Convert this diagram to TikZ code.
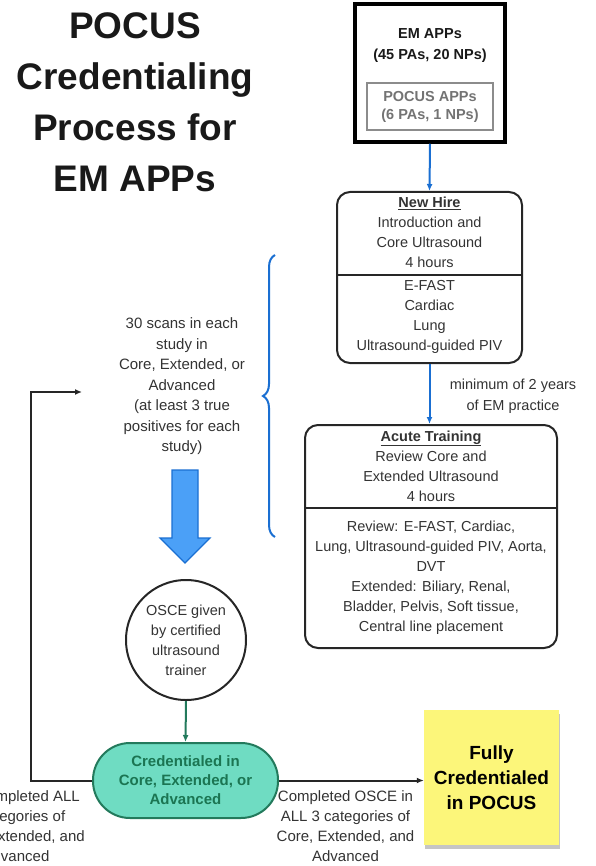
\documentclass[tikz,border=0pt]{standalone}
\usepackage{fontspec}
\setmainfont{Liberation Sans}
\usetikzlibrary{arrows.meta, positioning, calc, shadows, decorations.pathreplacing}
\definecolor{flowblue}{HTML}{1A6FD2}
\definecolor{arrowfill}{HTML}{4BA0F7}
\definecolor{credfill}{HTML}{6FDCC2}
\definecolor{credline}{HTML}{237A5C}
\definecolor{credtext}{HTML}{1B7552}
\definecolor{notefill}{HTML}{FCF67A}
\definecolor{bodytext}{HTML}{333333}

\begin{document}
\begin{tikzpicture}[x=1pt, y=-1pt, >={Latex[length=7pt, width=6pt]},
    body/.style={font=\fontsize{14.5}{20}\selectfont, text=bodytext, align=center},
    note/.style={font=\fontsize{15}{20.5}\selectfont, text=bodytext, align=center},
    stage/.style={draw=black!85, line width=2pt, rounded corners=13pt},
    flow/.style={->, flowblue, line width=2pt},
    link/.style={->, black!85, line width=2pt}]

    \useasboundingbox (0,0) rectangle (595,866);
    \clip (0,0) rectangle (595,866);

    \node[font=\bfseries\fontsize{37}{51}\selectfont, align=center, text=black!90] (title) at (135,102) {POCUS\\Credentialing\\Process for\\EM APPs};

    % staff pool
    \node[draw=black, line width=3.5pt, minimum width=150, minimum height=138] (em) at (430,73) {};
    \node[body, font=\bfseries\fontsize{14.5}{21}\selectfont, text=black!90] (emtext) at (430,45.5) {EM APPs\\(45 PAs, 20 NPs)};
    \node[draw=black!45, line width=1.5pt, minimum width=126, minimum height=47, font=\bfseries\fontsize{14.5}{18}\selectfont, text=black!55, align=center] (pocus) at (430,106.5) {POCUS APPs\\(6 PAs, 1 NPs)};

    % new hire
    \node[stage, minimum width=185, minimum height=171] (hire) at (429.5,277.5) {};
    \node[body] (hiretop) at (429.5,232.5) {\underline{\textbf{New Hire}}\\Introduction and\\Core Ultrasound\\4 hours};
    \node[body] (hirebot) at (429.5,317) {E-FAST\\Cardiac\\Lung\\Ultrasound-guided PIV};
    \draw[black!85, line width=2pt] (hire.west |- 0,275) -- (hire.east |- 0,275);

    % acute training
    \node[stage, minimum width=252, minimum height=223] (acute) at (431,536.5) {};
    \node[body] (acutetop) at (431,466) {\underline{\textbf{Acute Training}}\\Review Core and\\Extended Ultrasound\\4 hours};
    \node[body] (acutebot) at (431,578) {Review: E-FAST, Cardiac,\\Lung, Ultrasound-guided PIV, Aorta,\\DVT\\Extended: Biliary, Renal,\\Bladder, Pelvis, Soft tissue,\\Central line placement};
    \draw[black!85, line width=2pt] (acute.west |- 0,508) -- (acute.east |- 0,508);

    \draw[flow] (em.south) -- (hire.north);
    \draw[flow] (hire.south) -- (hire.south |- acute.north);
    \node[body, font=\fontsize{14.5}{21}\selectfont] (gap) at (513,396.5) {minimum of 2 years\\of EM practice};

    % scanning requirement
    \node[note] (scans) at (182,386.5) {30 scans in each\\study in\\Core, Extended, or\\Advanced\\(at least 3 true\\positives for each\\study)};
    \coordinate (bracetop) at (275,255);
    \coordinate (bracebot) at (275,537);
    \draw[flowblue, line width=2pt, decorate, decoration={brace, amplitude=12pt}] (bracebot) -- (bracetop);
    \draw[draw=flowblue, fill=arrowfill, line width=1.2pt] (172,470) -- (198,470) -- (198,538) -- (210,538) -- (185,563) -- (160,538) -- (172,538) -- cycle;

    \node[circle, draw=black!85, line width=2pt, minimum size=120, inner sep=0, body] (osce) at (186,640) {OSCE given\\by certified\\ultrasound\\trainer};

    \node[draw=credline, fill=credfill, line width=2pt, rounded corners=37pt, minimum width=185, minimum height=75, font=\bfseries\fontsize{15}{19}\selectfont, text=credtext, align=center] (cred) at (185.5,780.5) {Credentialed in\\Core, Extended, or\\Advanced};
    \draw[->, credline, line width=2pt] (osce.south) -- (cred.north);

    \node[fill=notefill, minimum width=135, minimum height=135, drop shadow={shadow xshift=1pt, shadow yshift=-4pt, fill=black!45, opacity=0.5}, font=\bfseries\fontsize{19}{25}\selectfont, align=center] (fully) at (491.5,777.5) {Fully\\Credentialed\\in POCUS};
    \draw[link] (cred.east) -- (cred.east -| fully.west);
    \node[note, font=\fontsize{15}{20}\selectfont] (done) at (345.5,826.5) {Completed OSCE in\\ALL 3 categories of\\Core, Extended, and\\Advanced};

    \coordinate (back) at (82,392);
    \draw[link] (cred.west) -- ++(-61,0) |- (back);
    \node[note, font=\fontsize{15}{20}\selectfont] (notdone) at (16,826.5) {Not completed ALL\\3 categories of\\Core, Extended, and\\Advanced};
\end{tikzpicture}
\end{document}
